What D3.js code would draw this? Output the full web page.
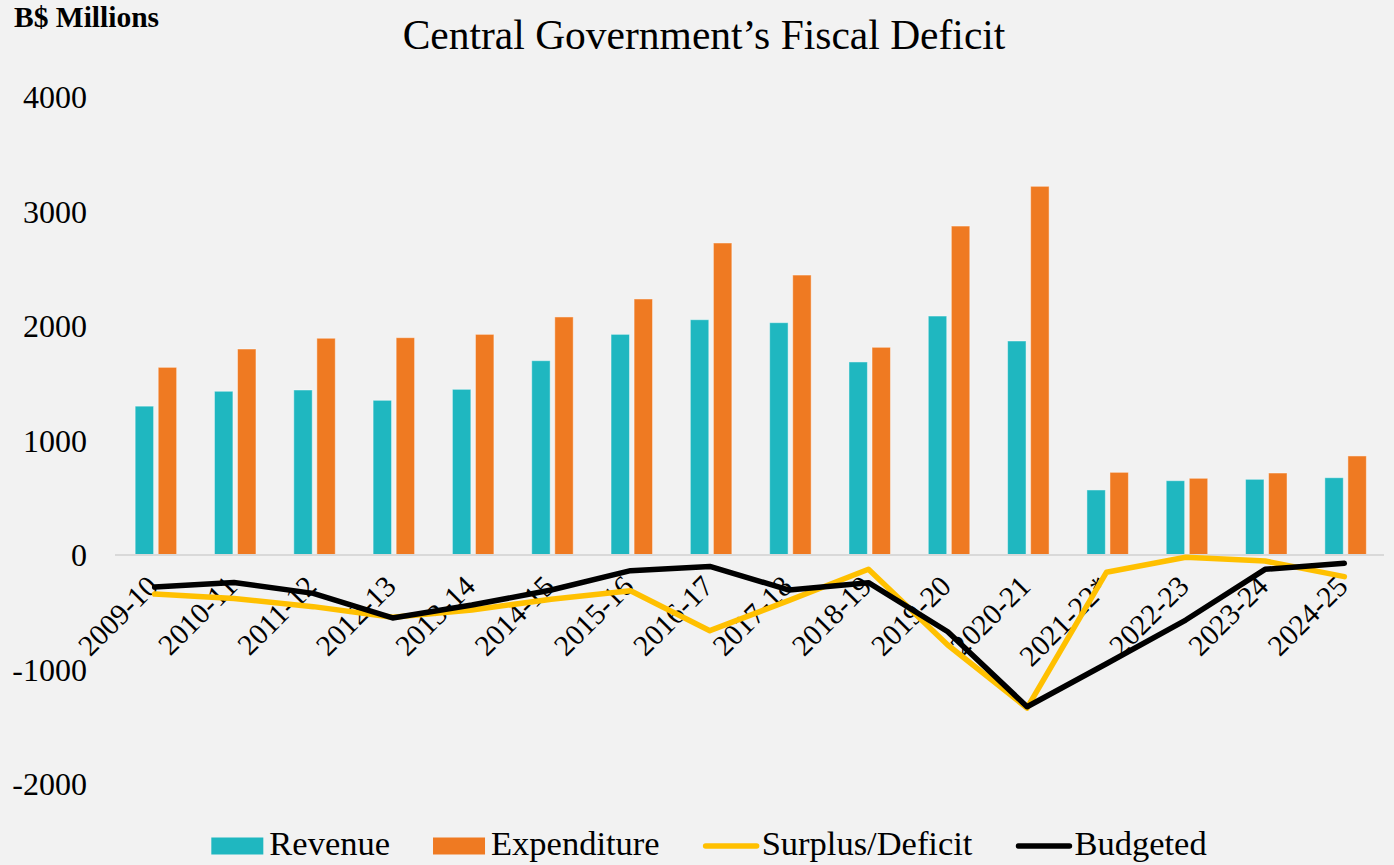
<!DOCTYPE html>
<html>
<head>
<meta charset="utf-8">
<script src="https://cdn.jsdelivr.net/npm/d3@7"></script>
<style>
  html, body { margin: 0; padding: 0; background: #f2f2f2; }
  svg { display: block; }
  text { font-family: "Liberation Serif", "Times New Roman", serif; fill: #000; }
</style>
</head>
<body>
<svg id="chart" width="1394" height="865"></svg>
<script>
const categories = ["2009-10","2010-11","2011-12","2012-13","2013-14","2014-15","2015-16","2016-17","2017-18","2018-19","2019-20","2020-21","2021-22*","2022-23","2023-24","2024-25"];
const revenue     = [1300,1430,1441,1351,1447,1697,1927,2055,2029,1686,2087,1869,568,649,661,675];
const expenditure = [1639,1799,1893,1898,1927,2079,2236,2725,2445,1814,2873,3220,722,670,716,865];
const surplus     = [-341,-380,-451,-544,-480,-387,-312,-661,-396,-125,-786,-1336,-151,-20,-52,-189];
const budgeted    = [-280,-240,-335,-550,-437,-306,-137,-100,-306,-242,-670,-1325,-950,-568,-125,-73];
const yTicks = [-2000,-1000,0,1000,2000,3000,4000];
const seriesNames = ["Revenue","Expenditure","Surplus/Deficit","Budgeted"];
const titleText = "Central Government\u2019s Fiscal Deficit";
const unitText = "B$ Millions";

const colors = { "Revenue": "#1fb7c0", "Expenditure": "#ef7a22", "Surplus/Deficit": "#ffc000", "Budgeted": "#000000" };

const svg = d3.select("#chart");
svg.append("rect").attr("width", 1394).attr("height", 865).attr("fill", "#f2f2f2");

const x0 = d3.scaleBand().domain(categories).range([115, 1384]).padding(0);
const x1 = d3.scaleBand().domain(["Revenue","Expenditure"]).range([-19.5, 22]).paddingInner(0.2);
const y = d3.scaleLinear().domain([-2000, 4000]).range([784, 97]);
const cx = c => x0(c) + x0.bandwidth() / 2;

// title
svg.append("text").attr("x", 704).attr("y", 49).attr("text-anchor", "middle")
  .attr("font-size", 41.5).text(titleText);
svg.append("text").attr("x", 14).attr("y", 27).attr("font-size", 29.5).attr("font-weight", "bold").text(unitText);

// y axis labels
const yAxis = d3.axisLeft(y).tickValues(yTicks).tickSize(0).tickPadding(0).tickFormat(d3.format("d"));
const yg = svg.append("g").attr("transform", "translate(87,0)").call(yAxis);
yg.select(".domain").remove();
yg.selectAll("text").attr("font-size", 32).attr("font-family", "Liberation Serif").attr("fill", "#000")
  .attr("dy", "0.34em").attr("text-anchor", "end").text(d => d < 0 ? "-" + Math.abs(d) : d);

// bars
const barData = categories.map((c, i) => ({ c, vals: [{ k: "Revenue", v: revenue[i] }, { k: "Expenditure", v: expenditure[i] }] }));
const groups = svg.append("g").selectAll("g").data(barData).join("g")
  .attr("transform", d => `translate(${cx(d.c)},0)`);
groups.selectAll("rect").data(d => d.vals).join("rect")
  .attr("x", d => x1(d.k))
  .attr("width", x1.bandwidth())
  .attr("y", d => y(Math.max(0, d.v)))
  .attr("height", d => Math.abs(y(d.v) - y(0)))
  .attr("fill", d => colors[d.k])
  .attr("stroke", "rgba(255,255,255,0.45)")
  .attr("stroke-width", 1);

// zero line
svg.append("line").attr("x1", 115).attr("x2", 1384).attr("y1", y(0)).attr("y2", y(0))
  .attr("stroke", "#d9d9d9").attr("stroke-width", 2);

// x axis labels
const xAxis = d3.axisBottom(x0).tickSize(0).tickPadding(0);
const xg = svg.append("g").call(xAxis);
xg.select(".domain").remove();
xg.selectAll(".tick").attr("transform", d => `translate(${cx(d) + 5},588)`);
xg.selectAll("text").attr("font-size", 29.5).attr("font-family", "Liberation Serif").attr("fill", "#000")
  .attr("text-anchor", "end").attr("dy", 0).attr("y", 0).attr("transform", "rotate(-45)");

// lines
const lineGen = d3.line().x((d, i) => cx(categories[i])).y(d => y(d));
svg.append("path").datum(surplus).attr("d", lineGen).attr("fill", "none")
  .attr("stroke", colors["Surplus/Deficit"]).attr("stroke-width", 5.5).attr("stroke-linejoin", "round").attr("stroke-linecap", "round");
svg.append("path").datum(budgeted).attr("d", lineGen).attr("fill", "none")
  .attr("stroke", colors["Budgeted"]).attr("stroke-width", 5.5).attr("stroke-linejoin", "round").attr("stroke-linecap", "round");

// legend
const legend = svg.append("g");
let lx = 0;
const ly = 846;
seriesNames.forEach((name, i) => {
  const g = legend.append("g");
  if (i < 2) {
    g.append("rect").attr("x", lx).attr("y", ly - 8.5).attr("width", 52).attr("height", 17).attr("fill", colors[name]);
    lx += 58;
  } else {
    g.append("line").attr("x1", lx + 3).attr("x2", lx + 54).attr("y1", ly).attr("y2", ly)
      .attr("stroke", colors[name]).attr("stroke-width", 5.5).attr("stroke-linecap", "round");
    lx += 59;
  }
  const t = g.append("text").attr("x", lx).attr("y", ly + 9).attr("font-size", 34.5).text(name);
  lx += t.node().getComputedTextLength() + 43;
});
lx -= 43;
legend.attr("transform", `translate(${709 - lx / 2},0)`);
</script>
</body>
</html>
